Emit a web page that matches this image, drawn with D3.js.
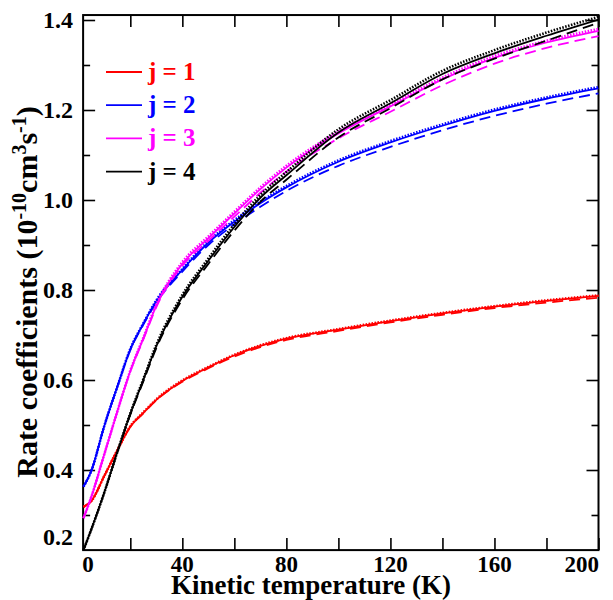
<!DOCTYPE html>
<html>
<head>
  <script src="https://d3js.org/d3.v7.min.js"></script>
  <style>
    body { margin: 0; background: #fff; }
    text { font-family: "Liberation Serif", "Times New Roman", serif; font-weight: bold; }
  </style>
</head>
<body>
  <svg id="chart"></svg>
  <script>
    // temperature grid (K)
    const temps = [2, 5, 10, 15, 20, 25, 30, 40, 50, 60, 70, 80, 100, 120, 140, 160, 180, 200];

    // rate coefficients, 1e-10 cm^3 s^-1 : solid / dashed / dotted for each j
    const j1Solid  = [0.318, 0.331, 0.387, 0.444, 0.496, 0.527, 0.556, 0.598, 0.628, 0.655, 0.676, 0.692, 0.712, 0.731, 0.748, 0.763, 0.776, 0.787];
    const j1Dashed = [0.318, 0.331, 0.387, 0.444, 0.496, 0.526, 0.555, 0.596, 0.626, 0.652, 0.673, 0.689, 0.709, 0.728, 0.745, 0.760, 0.772, 0.783];
    const j1Dotted = [0.318, 0.331, 0.387, 0.444, 0.497, 0.528, 0.557, 0.599, 0.629, 0.656, 0.677, 0.693, 0.713, 0.732, 0.749, 0.764, 0.777, 0.788];

    const j2Solid  = [0.363, 0.398, 0.498, 0.585, 0.668, 0.725, 0.775, 0.845, 0.905, 0.952, 0.993, 1.028, 1.085, 1.128, 1.165, 1.198, 1.225, 1.248];
    const j2Dashed = [0.363, 0.398, 0.498, 0.585, 0.667, 0.723, 0.772, 0.841, 0.900, 0.946, 0.985, 1.020, 1.076, 1.118, 1.155, 1.187, 1.214, 1.237];
    const j2Dotted = [0.363, 0.398, 0.498, 0.585, 0.669, 0.726, 0.777, 0.847, 0.908, 0.955, 0.996, 1.031, 1.088, 1.131, 1.168, 1.201, 1.228, 1.251];

    const j3Solid  = [0.293, 0.340, 0.435, 0.530, 0.620, 0.692, 0.765, 0.858, 0.915, 0.970, 1.024, 1.072, 1.148, 1.208, 1.268, 1.316, 1.350, 1.376];
    const j3Dashed = [0.293, 0.340, 0.435, 0.530, 0.619, 0.690, 0.762, 0.854, 0.909, 0.963, 1.016, 1.063, 1.137, 1.196, 1.255, 1.303, 1.338, 1.364];
    const j3Dotted = [0.293, 0.340, 0.435, 0.530, 0.621, 0.694, 0.768, 0.862, 0.919, 0.974, 1.028, 1.076, 1.152, 1.212, 1.272, 1.320, 1.354, 1.380];

    const j4Solid  = [0.222, 0.268, 0.350, 0.440, 0.525, 0.600, 0.675, 0.785, 0.865, 0.940, 1.005, 1.055, 1.150, 1.215, 1.280, 1.326, 1.365, 1.401];
    const j4Dashed = [0.222, 0.268, 0.350, 0.439, 0.523, 0.597, 0.671, 0.779, 0.858, 0.932, 0.996, 1.045, 1.139, 1.204, 1.268, 1.314, 1.354, 1.394];
    const j4Dotted = [0.222, 0.268, 0.350, 0.440, 0.526, 0.602, 0.678, 0.789, 0.870, 0.946, 1.011, 1.062, 1.157, 1.222, 1.287, 1.333, 1.372, 1.407];

    const legendLabels = ["j = 1", "j = 2", "j = 3", "j = 4"];
    const colors = ["#ff0000", "#0000ff", "#ff00ff", "#000000"];
    const xTickValues = [20, 40, 60, 80, 100, 120, 140, 160, 180, 200];
    const xTickLabels = [40, 80, 120, 160];
    const yTickValues = [0.3, 0.4, 0.5, 0.6, 0.7, 0.8, 0.9, 1.0, 1.1, 1.2, 1.3, 1.4];
    const yTickLabels = [0.4, 0.6, 0.8, 1.0, 1.2, 1.4];

    const series = [
      { j: 0, style: "solid",  values: j1Solid },
      { j: 0, style: "dashed", values: j1Dashed },
      { j: 0, style: "dotted", values: j1Dotted },
      { j: 1, style: "solid",  values: j2Solid },
      { j: 1, style: "dashed", values: j2Dashed },
      { j: 1, style: "dotted", values: j2Dotted },
      { j: 2, style: "solid",  values: j3Solid },
      { j: 2, style: "dashed", values: j3Dashed },
      { j: 2, style: "dotted", values: j3Dotted },
      { j: 3, style: "solid",  values: j4Solid },
      { j: 3, style: "dashed", values: j4Dashed },
      { j: 3, style: "dotted", values: j4Dotted }
    ];

    const svg = d3.select("#chart").attr("width", 613).attr("height", 600);

    const x = d3.scaleLinear().domain([0, 200]).range([78.3, 598.5]);
    const y = d3.scaleLinear().domain([0.2, 1.4]).range([560, 20]);

    // plot frame (the axes start a bit above 0 K / 0.2)
    const frameL = x(1.85), frameR = x(200), frameT = y(1.411), frameB = y(0.222);

    // ticks, all pointing inward
    const gx = svg.append("g").attr("transform", `translate(0,${frameB})`)
      .call(d3.axisBottom(x).tickValues(xTickValues).tickSize(-12).tickFormat(""));
    const gxTop = svg.append("g").attr("transform", `translate(0,${frameT})`)
      .call(d3.axisTop(x).tickValues(xTickValues).tickSize(-12).tickFormat(""));
    const gy = svg.append("g").attr("transform", `translate(${frameL},0)`)
      .call(d3.axisLeft(y).tickValues(yTickValues).tickSize(-12).tickFormat(""));
    const gyRight = svg.append("g").attr("transform", `translate(${frameR},0)`)
      .call(d3.axisRight(y).tickValues(yTickValues).tickSize(-12).tickFormat(""));

    [gx, gxTop, gy, gyRight].forEach(g => {
      g.select(".domain").remove();
      g.selectAll("line").attr("stroke", "#000").attr("stroke-width", 1.6);
    });
    // shorter minor ticks on the y axes
    gy.selectAll(".tick line").filter(d => Math.round(d * 10) % 2 === 1).attr("x2", 7);
    gyRight.selectAll(".tick line").filter(d => Math.round(d * 10) % 2 === 1).attr("x2", -7);

    svg.append("rect")
      .attr("x", frameL).attr("y", frameT)
      .attr("width", frameR - frameL).attr("height", frameB - frameT)
      .attr("fill", "none").attr("stroke", "#000").attr("stroke-width", 2);

    // tick labels
    svg.append("g").selectAll("text")
      .data(xTickLabels).enter().append("text")
      .attr("x", d => x(d)).attr("y", 572)
      .attr("text-anchor", "middle").attr("font-size", 23)
      .text(d => d);
    svg.append("text").attr("x", 599).attr("y", 572)
      .attr("text-anchor", "end").attr("font-size", 23).text("200");
    svg.append("text").attr("x", 88).attr("y", 572)
      .attr("text-anchor", "middle").attr("font-size", 23).text("0");

    svg.append("g").selectAll("text")
      .data(yTickLabels).enter().append("text")
      .attr("x", 73).attr("y", d => y(d) + 8)
      .attr("text-anchor", "end").attr("font-size", 24)
      .text(d => d.toFixed(1));
    svg.append("text").attr("x", 73).attr("y", 545)
      .attr("text-anchor", "end").attr("font-size", 24).text("0.2");

    // axis titles
    svg.append("text")
      .attr("x", 311).attr("y", 594)
      .attr("text-anchor", "middle").attr("font-size", 27)
      .text("Kinetic temperature (K)");

    const yTitle = svg.append("text")
      .attr("transform", "translate(37,292) rotate(-90)")
      .attr("text-anchor", "middle").attr("font-size", 30);
    yTitle.append("tspan").text("Rate coefficients (10");
    yTitle.append("tspan").attr("font-size", 20).attr("dy", -11).text("-10");
    yTitle.append("tspan").attr("dy", 11).text("cm");
    yTitle.append("tspan").attr("font-size", 20).attr("dy", -11).text("3");
    yTitle.append("tspan").attr("dy", 11).text("s");
    yTitle.append("tspan").attr("font-size", 20).attr("dy", -11).text("-1");
    yTitle.append("tspan").attr("dy", 11).text(")");

    // curves
    const line = d3.line()
      .x((d, i) => x(temps[i]))
      .y(d => y(d))
      .curve(d3.curveMonotoneX);

    const dashes = { solid: null, dashed: "11,6", dotted: "1.5,1.5" };
    const widths = { solid: 1.8, dashed: 1.8, dotted: 2.6 };

    svg.append("g").selectAll("path")
      .data(series).enter().append("path")
      .attr("d", d => line(d.values))
      .attr("fill", "none")
      .attr("stroke", d => colors[d.j])
      .attr("stroke-width", d => widths[d.style])
      .attr("stroke-dasharray", d => dashes[d.style]);

    // legend
    const legend = svg.append("g").selectAll("g")
      .data(legendLabels).enter().append("g")
      .attr("transform", (d, i) => `translate(0,${72 + i * 33.2})`);
    legend.append("line")
      .attr("x1", 106).attr("x2", 142)
      .attr("stroke", (d, i) => colors[i]).attr("stroke-width", 1.8);
    legend.append("text")
      .attr("x", 148).attr("y", 8)
      .attr("font-size", 25)
      .attr("fill", (d, i) => colors[i])
      .text(d => d);
  </script>
</body>
</html>
